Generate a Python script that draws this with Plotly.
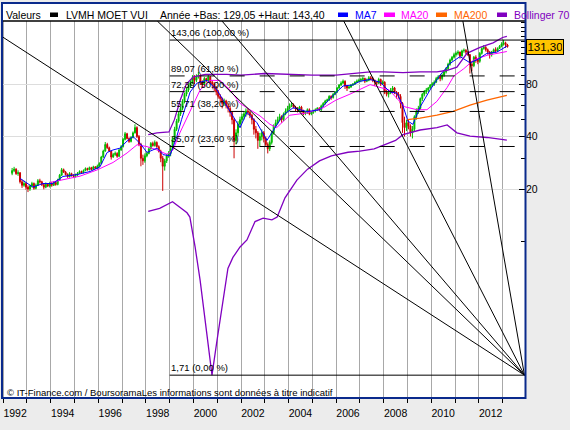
import numpy as np
import plotly.graph_objects as go

# --- monthly candles, May 1992 -> Mar 2013 (one row per year) ---
open_ = [
    24.6, 25.5, 26.0, 24.5, 24.8, 22.0, 21.0, 21.5,
    20.5, 20.0, 20.8, 21.5, 20.2, 21.0, 22.3, 22.0, 21.2, 20.5, 21.3, 20.8,
    21.5, 21.0, 21.8, 21.2, 22.5, 24.0, 25.8, 25.0, 24.2, 23.5, 24.5, 23.8,
    23.6, 24.0, 24.6, 25.2, 24.8, 25.5, 26.2, 25.8, 26.5, 25.9, 26.8, 26.3,
    27.0, 28.0, 30.5, 33.0, 36.0, 34.5, 33.0, 30.5, 31.5, 32.0, 30.8, 33.5,
    35.0, 38.5, 41.5, 39.0, 37.5, 39.5, 42.0, 45.0, 40.0, 36.0, 30.0, 29.0,
    31.0, 32.0, 34.0, 36.5, 35.5, 37.0, 35.0, 33.0, 30.0, 27.0, 29.0, 31.0,
    32.0, 34.0, 39.0, 44.0, 49.0, 54.0, 58.0, 64.0, 70.0, 74.0, 78.0, 82.0,
    87, 84, 88, 90, 82, 80, 86, 84, 88, 82, 80, 76,
    72, 68, 66, 62, 64, 60, 58, 55, 50, 38, 42, 47,
    50, 52, 54, 56, 55, 53, 50, 44, 42, 38, 40, 42,
    39, 36, 34, 37, 42, 46, 48, 50, 52, 50, 54, 56,
    58, 60, 61, 59, 58, 57, 59, 56, 54, 55, 57, 54,
    55, 56, 57, 58, 57, 60, 62, 64, 65, 68, 67, 70,
    72, 76, 79, 81, 83, 78, 76, 77, 79, 80, 82, 83,
    84, 85, 86, 83, 84, 87, 86, 84, 82, 81, 85, 80,
    82, 72, 70, 71, 74, 76, 72, 70, 68, 62, 48, 45,
    48, 46, 42, 44, 52, 56, 58, 66, 70, 72, 74, 76,
    79, 80, 82, 86, 88, 86, 90, 94, 98, 104, 110, 114,
    118, 120, 122, 116, 124, 125, 122, 118, 104, 102, 114, 110,
    108, 120, 128, 130, 126, 122, 118, 122, 126, 124, 128, 132,
    136, 138, 134,
]
high = [
    26.4, 26.8, 26.3, 25.6, 25.0, 22.6, 22.3, 21.9,
    21.0, 21.2, 22.0, 21.8, 21.5, 22.8, 22.9, 22.3, 21.5, 21.8, 21.6, 22.0,
    22.0, 22.2, 22.1, 22.9, 24.4, 26.4, 26.2, 25.4, 24.6, 25.0, 24.8, 24.3,
    24.5, 25.0, 25.6, 25.5, 25.9, 26.6, 26.5, 26.9, 26.8, 27.2, 27.0, 27.6,
    28.5, 31.0, 33.6, 37.2, 36.8, 35.0, 33.4, 32.2, 32.8, 32.5, 34.0, 35.8,
    39.2, 42.5, 42.0, 39.6, 40.2, 42.8, 47.0, 45.8, 40.8, 36.8, 31.5, 32.0,
    32.8, 34.6, 37.2, 37.4, 38.0, 37.5, 35.6, 33.6, 31.0, 29.8, 31.8, 33.0,
    35.0, 40.0, 45.5, 50.5, 55.5, 59.5, 65.5, 71.5, 76.0, 80.0, 84.0, 90.0,
    90, 91, 94, 91, 84, 88, 87, 90, 89, 84, 82, 78,
    74, 70, 67, 66, 65, 62, 60, 56, 51, 44, 49, 52,
    54, 56, 58, 58, 56, 54, 51, 46, 43, 42, 44, 43,
    40, 37, 38, 43, 47, 50, 52, 54, 53, 55, 58, 60,
    62, 63, 62, 60, 59, 60, 60, 57, 56, 58, 58, 56,
    57, 58, 59, 59, 61, 63, 65, 66, 69, 69, 71, 73,
    77, 80, 83, 85, 84, 79, 78, 80, 81, 83, 85, 86,
    87, 88, 87, 86, 89, 89, 88, 85, 83, 87, 86, 84,
    83, 74, 73, 76, 78, 77, 73, 72, 70, 63, 52, 50,
    50, 47, 46, 53, 58, 60, 67, 71, 74, 76, 77, 80,
    82, 84, 88, 90, 90, 92, 96, 100, 106, 112, 116, 121,
    123, 125, 123, 126, 128, 127, 124, 119, 108, 116, 117, 112,
    122, 130, 134, 132, 128, 124, 124, 128, 130, 130, 134, 139,
    143.4, 140, 136,
]
low = [
    24.0, 25.0, 24.1, 23.8, 21.5, 20.3, 20.6, 19.8,
    19.2, 19.5, 20.4, 19.8, 19.9, 20.8, 21.5, 20.8, 19.9, 20.2, 20.5, 20.4,
    20.6, 20.8, 20.9, 21.0, 22.3, 23.8, 24.7, 23.9, 23.2, 23.3, 23.6, 23.1,
    23.3, 23.8, 24.4, 24.5, 24.6, 25.3, 25.5, 25.6, 25.6, 25.7, 26.1, 26.1,
    26.8, 27.8, 30.2, 32.7, 34.0, 32.6, 29.5, 30.2, 31.0, 30.2, 30.6, 33.1,
    34.6, 38.0, 38.5, 36.8, 37.0, 39.0, 41.6, 39.2, 35.2, 27.0, 27.5, 28.3,
    30.4, 31.6, 33.6, 35.0, 35.0, 34.5, 32.4, 28.5, 19.5, 25.5, 28.2, 30.2,
    30.8, 33.4, 38.0, 43.0, 48.0, 52.5, 56.5, 62.0, 68.0, 72.0, 76.0, 80.0,
    80, 82, 86, 79, 76, 79, 82, 83, 80, 76, 73, 69,
    66, 63, 58, 60, 58, 55, 52, 47, 30, 36, 40, 45,
    48, 50, 52, 53, 51, 47, 41, 39, 34, 35, 38, 37,
    35, 32, 33, 36, 41, 45, 47, 49, 48, 49, 53, 55,
    57, 59, 58, 56, 55, 56, 55, 53, 53, 54, 53, 53,
    54, 55, 56, 56, 56, 59, 61, 63, 64, 65, 66, 69,
    71, 75, 78, 80, 75, 73, 75, 76, 78, 79, 81, 82,
    82, 83, 81, 82, 83, 84, 82, 78, 79, 80, 78, 79,
    70, 68, 67, 70, 73, 70, 66, 66, 58, 42, 40, 43,
    44, 40, 39, 43, 50, 54, 57, 64, 68, 70, 72, 75,
    77, 78, 81, 85, 83, 84, 88, 92, 96, 102, 108, 112,
    115, 117, 112, 115, 121, 119, 116, 92, 95, 100, 106, 104,
    106, 118, 126, 123, 118, 112, 115, 120, 121, 122, 127, 130,
    133, 129.05, 129.5,
]
close = [
    25.5, 26.0, 24.5, 24.8, 22.0, 21.0, 21.5, 20.5,
    20.0, 20.8, 21.5, 20.2, 21.0, 22.3, 22.0, 21.2, 20.5, 21.3, 20.8, 21.5,
    21.0, 21.8, 21.2, 22.5, 24.0, 25.8, 25.0, 24.2, 23.5, 24.5, 23.8, 23.6,
    24.0, 24.6, 25.2, 24.8, 25.5, 26.2, 25.8, 26.5, 25.9, 26.8, 26.3, 27.0,
    28.0, 30.5, 33.0, 36.0, 34.5, 33.0, 30.5, 31.5, 32.0, 30.8, 33.5, 35.0,
    38.5, 41.5, 39.0, 37.5, 39.5, 42.0, 45.0, 40.0, 36.0, 30.0, 29.0, 31.0,
    32.0, 34.0, 36.5, 35.5, 37.0, 35.0, 33.0, 30.0, 27.0, 29.0, 31.0, 32.0,
    34.0, 39.0, 44.0, 49.0, 54.0, 58.0, 64.0, 70.0, 74.0, 78.0, 82.0, 87.0,
    84, 88, 90, 82, 80, 86, 84, 88, 82, 80, 76, 72,
    68, 66, 62, 64, 60, 58, 55, 50, 38, 42, 47, 50,
    52, 54, 56, 55, 53, 50, 44, 42, 38, 40, 42, 39,
    36, 34, 37, 42, 46, 48, 50, 52, 50, 54, 56, 58,
    60, 61, 59, 58, 57, 59, 56, 54, 55, 57, 54, 55,
    56, 57, 58, 57, 60, 62, 64, 65, 68, 67, 70, 72,
    76, 79, 81, 83, 78, 76, 77, 79, 80, 82, 83, 84,
    85, 86, 83, 84, 87, 86, 84, 82, 81, 85, 80, 82,
    72, 70, 71, 74, 76, 72, 70, 68, 62, 48, 45, 48,
    46, 42, 44, 52, 56, 58, 66, 70, 72, 74, 76, 79,
    80, 82, 86, 88, 86, 90, 94, 98, 104, 110, 114, 118,
    120, 122, 116, 124, 125, 122, 118, 104, 102, 114, 110, 108,
    120, 128, 130, 126, 122, 118, 122, 126, 124, 128, 132, 136,
    138, 134, 131.3,
]
# mid-month positions in decimal years, starting May 1992
months = 1992 + (4 + np.arange(len(close)) + 0.5) / 12

# --- indicators (x in decimal years) ---
ma7_x = [1992.71, 1993.0, 1993.25, 1993.67, 1994.09, 1994.51, 1995.1, 1995.65,
         1996.07, 1996.37, 1996.62, 1996.91, 1997.21, 1997.46, 1997.75, 1998.05,
         1998.47, 1998.72, 1999.01, 1999.3, 1999.5, 1999.86, 2000.15, 2000.57,
         2000.99, 2001.24, 2001.66, 2001.96, 2002.25, 2002.67, 2003.09, 2003.35,
         2003.77, 2004.19, 2004.78, 2005.32, 2005.74, 2006.29, 2006.7, 2007.0,
         2007.43, 2007.85, 2008.27, 2008.56, 2008.81, 2009.02, 2009.23, 2009.53,
         2009.95, 2010.37, 2010.79, 2011.21, 2011.63, 2011.92, 2012.34, 2012.76,
         2013.18]
ma7_y = [23, 21.5, 20.5, 21.5, 21.5, 23.6, 24.2, 25.2,
         26.8, 32.4, 33.5, 34.3, 37.7, 40, 36.6, 32.4,
         34.3, 31.5, 31, 40, 50, 72, 81, 84,
         74, 65, 52, 45, 55, 48, 38, 43,
         53, 58.5, 55.6, 57, 66, 78, 79, 83,
         85, 82, 72, 71, 60, 49, 47, 59,
         74, 90, 105, 115, 106, 110, 120, 122,
         132]

ma20_x = [1993.97, 1994.51, 1995.23, 1995.94, 1996.62, 1997.21, 1997.63, 1998.05,
          1998.47, 1998.89, 1999.14, 1999.43, 1999.86, 2000.28, 2000.7, 2001.12,
          2001.54, 2001.96, 2002.38, 2002.8, 2003.22, 2003.5, 2004.05, 2004.78,
          2005.45, 2006.0, 2006.58, 2007.43, 2008.23, 2008.88, 2009.4, 2009.82,
          2010.24, 2010.67, 2010.95, 2011.37, 2011.79, 2012.35, 2013.18]
ma20_y = [21.8, 22.5, 23.7, 25.7, 28.4, 32.2, 35.9, 35,
          33.5, 31.6, 33.5, 42, 56, 74, 84, 84,
          74, 62, 57, 52.5, 47, 45, 53, 54.6,
          58.4, 64.8, 70, 79.4, 74, 59.3, 57, 57,
          63.7, 76.5, 89, 98, 110, 117, 123]

ma200_x = [2009.0, 2009.53, 2010.24, 2010.92, 2011.63, 2012.34, 2013.0, 2013.18]
ma200_y = [50, 51, 53, 55.7, 60.5, 64.8, 68, 69]

boll_up_x = [1998.1, 1998.47, 1998.97, 1999.2, 1999.45, 1999.7, 2000.0, 2000.5,
             2001.4, 2002.0, 2003.0, 2004.0, 2005.0, 2006.0, 2007.0, 2007.43,
             2008.0, 2008.81, 2009.53, 2010.24, 2010.67, 2011.08, 2011.5, 2012.05,
             2012.6, 2013.0, 2013.18]
boll_up_y = [41, 42, 42.5, 50, 65, 80, 88, 91,
             91, 90, 92, 91, 90, 90, 93, 94,
             94, 93, 94, 94, 96, 100, 120, 130,
             138, 148, 150]

boll_lo_x = [1998.1, 1998.58, 1999.12, 1999.73, 1999.85, 2000.07, 2000.28, 2000.49,
             2000.7, 2000.78, 2000.99, 2001.2, 2001.45, 2001.66, 2001.96, 2002.25,
             2002.59, 2002.93, 2003.3, 2003.52, 2003.85, 2004.35, 2004.8, 2005.3,
             2005.8, 2006.5, 2007.0, 2007.6, 2008.0, 2008.5, 2008.81, 2009.53,
             2010.24, 2010.67, 2011.08, 2011.63, 2012.34, 2013.0, 2013.18]
boll_lo_y = [14.9, 15.5, 16.9, 14.6, 13.8, 9.3, 6.0, 3.5,
             2.1, 1.71, 2.7, 4.2, 7.0, 8.1, 9.3, 10.2,
             13.0, 13.6, 13.3, 13.8, 17.8, 22.5, 26, 29,
             31, 32.5, 33, 34, 35.6, 38, 41, 43.6,
             45, 46.6, 42, 40.2, 39.5, 38.2, 38.2]

# Fibonacci retracement levels
fib_levels = [143.06, 89.07, 72.39, 55.71, 35.07, 1.71]
fib_labels = ["143,06 (100,00 %)", "89,07 (61,80 %)", "72,39 (50,00 %)",
              "55,71 (38,20 %)", "35,07 (23,60 %)", "1,71 (0,00 %)"]
fib_start = 1999.0

# Fibonacci fan: start points, all converging on one point
fan_x0 = [1991.95, 1998.48, 2001.2, 2006.32, 2011.33]
fan_y0 = [149.8, 184.0, 184.0, 184.0, 184.0]
fan_end = (2013.92, 1.71)

year_ticks = list(range(1992, 2013, 2))
grid_years = list(range(1992, 2014))

W, H = 570, 430
L, R, T, B = 2, 525, 21, 398


def fx(px):
    return (px - L) / (R - L)


def fy(py):
    return (B - py) / (B - T)


FONT = "Liberation Sans"
BLUE_FRAME = "#0A2A8C"

fig = go.Figure()

fig.add_trace(go.Candlestick(
    x=months, open=open_, high=high, low=low, close=close,
    increasing=dict(line=dict(color="#00BB00", width=1), fillcolor="#00BB00"),
    decreasing=dict(line=dict(color="#CC0000", width=1), fillcolor="#CC0000"),
    whiskerwidth=0, showlegend=False, hoverinfo="skip",
))

for xs, ys, color, width in [
    (ma20_x, ma20_y, "#FF00FF", 1),
    (ma7_x, ma7_y, "#0000FF", 1),
    (ma200_x, ma200_y, "#FF6600", 1.3),
    (boll_up_x, boll_up_y, "#8000C0", 1.3),
    (boll_lo_x, boll_lo_y, "#8000C0", 1.3),
]:
    fig.add_trace(go.Scatter(x=xs, y=ys, mode="lines",
                             line=dict(color=color, width=width),
                             showlegend=False, hoverinfo="skip"))

for i, lvl in enumerate(fib_levels):
    solid = i == 0 or i == len(fib_levels) - 1
    fig.add_trace(go.Scatter(
        x=[fib_start, fan_end[0] + 0.1], y=[lvl, lvl], mode="lines",
        line=dict(color="black", width=1, dash="solid" if solid else "15px,15px"),
        showlegend=False, hoverinfo="skip",
    ))
    fig.add_annotation(
        x=fib_start, y=np.log10(lvl), xref="x", yref="y",
        text=fib_labels[i], showarrow=False, xanchor="left", yanchor="bottom",
        font=dict(family=FONT, size=9.5, color="black"), borderpad=0, yshift=1,
    )

for x0, y0 in zip(fan_x0, fan_y0):
    fig.add_trace(go.Scatter(
        x=[x0, fan_end[0]], y=[y0, fan_end[1]], mode="lines",
        line=dict(color="black", width=1), showlegend=False, hoverinfo="skip",
    ))

# header strip, legend swatches and outer frame
shapes = [
    dict(type="rect", xref="paper", yref="paper", x0=fx(2), x1=fx(525.5),
         y0=fy(T), y1=fy(3), fillcolor="white", line=dict(width=0), layer="below"),
    dict(type="line", xref="paper", yref="paper", x0=fx(2), x1=fx(525.5),
         y0=1, y1=1, line=dict(color="black", width=1.5)),
]
for (a, b), color in [((50, 58), "black"), ((338, 348), "#0000FF"),
                      ((384, 395), "#FF00FF"), ((436, 447), "#FF6600"),
                      ((497, 507), "#8000C0")]:
    shapes.append(dict(type="rect", xref="paper", yref="paper", x0=fx(a), x1=fx(b),
                       y0=fy(17), y1=fy(12.5), fillcolor=color, line=dict(width=0)))
shapes.append(dict(type="rect", xref="paper", yref="paper", x0=fx(2), x1=fx(525.5),
                   y0=fy(398), y1=fy(3), line=dict(color=BLUE_FRAME, width=2),
                   fillcolor="rgba(0,0,0,0)"))

header = [
    (3.6, "Valeurs", "black"),
    (64, "LVMH MOET VUI", "black"),
    (158, "Année +Bas: 129,05 +Haut: 143,40", "black"),
    (353, "MA7", "#0000FF"),
    (399, "MA20", "#FF00FF"),
    (452, "MA200", "#FF6600"),
    (512, "Bollinger 70", "#8000C0"),
]
for px, text, color in header:
    fig.add_annotation(x=fx(px), y=fy(14.5), xref="paper", yref="paper", text=text,
                       showarrow=False, xanchor="left", yanchor="middle",
                       font=dict(family=FONT, size=10.5, color=color))

fig.add_annotation(
    x=fx(4.5), y=fy(392), xref="paper", yref="paper",
    text="© IT-Finance.com / BoursoramaLes informations sont données à titre indicatif",
    showarrow=False, xanchor="left", yanchor="middle",
    font=dict(family=FONT, size=9.5, color="black"),
)
fig.add_annotation(
    x=fx(526), y=np.log10(close[-1]), xref="paper", yref="y",
    text=f"{close[-1]:.2f}".replace(".", ","), showarrow=False,
    xanchor="left", yanchor="middle", bgcolor="#FFC400", bordercolor="black",
    borderwidth=1, borderpad=1, width=34, height=12,
    font=dict(family=FONT, size=11.5, color="black"),
)

x_lo = 1992 + (L - 3.2) / 23.78
x_hi = 1992 + (R - 3.2) / 23.78
y_lo = np.log10(20) - (B - 189) / 174.3
y_hi = np.log10(20) + (189 - T) / 174.3

fig.update_layout(
    width=W, height=H,
    margin=dict(l=L, r=W - R, t=T, b=H - B),
    paper_bgcolor="#ECECEC", plot_bgcolor="white",
    showlegend=False, shapes=shapes,
    xaxis=dict(
        range=[x_lo, x_hi], tickmode="array",
        tickvals=[y + 0.5 for y in year_ticks], ticktext=[str(y) for y in year_ticks],
        ticks="outside", ticklen=5, tickcolor="rgba(0,0,0,0)",
        showgrid=False, zeroline=False, showline=False,
        tickfont=dict(family=FONT, size=10.5, color="black"),
        minor=dict(tickmode="array", tickvals=grid_years, ticks="outside", ticklen=4,
                   tickcolor="black", showgrid=True, gridcolor="#A8A8A8", gridwidth=1),
        rangeslider=dict(visible=False), fixedrange=True,
    ),
    yaxis=dict(
        type="log", side="right", range=[y_lo, y_hi],
        tickmode="array", tickvals=[20, 40, 80], ticktext=["20", "40", "80"],
        ticks="inside", ticklen=6, tickcolor="black",
        showgrid=True, gridcolor="#DDDDDD", zeroline=False, showline=False,
        tickfont=dict(family=FONT, size=10.5, color="black"),
        minor=dict(tickmode="array",
                   tickvals=[10, 30, 50, 60, 70, 90, 100, 110, 120, 130, 140, 150,
                             160, 170, 180],
                   ticks="inside", ticklen=4, tickcolor="black", showgrid=False),
        fixedrange=True,
    ),
)

# the page's default body margin would push the 570x430 figure off the window
fig.write_html("out.html", config={"displayModeBar": False},
               post_script="document.body.style.margin = '0';")
